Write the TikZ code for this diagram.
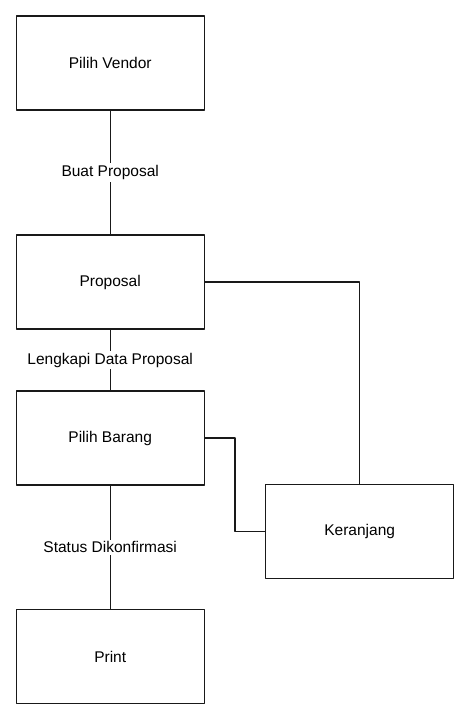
\documentclass[tikz,border=0pt]{standalone}
\usepackage{fontspec}
\usepackage{tikz}
\setmainfont{Liberation Sans}
\usetikzlibrary{calc}
\definecolor{qqqqqq}{rgb}{0.1,0.1,0.1}
\tikzset{
  kotak/.style={draw=qqqqqq,line width=1.3pt,minimum width=188pt,minimum height=94pt,inner sep=0pt,font=\fontsize{15.5}{18}\selectfont},
  garis/.style={draw=qqqqqq,line width=1.3pt},
  ket/.style={fill=white,inner sep=2pt,font=\fontsize{15.5}{18}\selectfont}
}
\begin{document}
\begin{tikzpicture}[line cap=round,line join=round,x=1pt,y=-1pt]
                        \useasboundingbox (0,0) rectangle (471,720);
                        \node[kotak] (vendor) at (110.2,63) {Pilih Vendor};
                        \node[kotak] (proposal) at (110.2,282) {Proposal};
                        \node[kotak] (barang) at (110.2,438) {Pilih Barang};
                        \node[kotak] (keranjang) at (359.7,531.5) {Keranjang};
                        \node[kotak] (print) at (110.2,656.5) {Print};
                        \coordinate (siku) at ($(barang.east)!0.5!(keranjang.west |- barang.east)$);
                        \draw[garis] (vendor) -- node[ket] {Buat Proposal} (proposal);
                        \draw[garis] (proposal) -- node[ket] {Lengkapi Data Proposal} (barang);
                        \draw[garis] (barang) -- node[ket] {Status Dikonfirmasi} (print);
                        \draw[garis] (proposal.east) -| (keranjang.north);
                        \draw[garis] (barang.east) -- (siku) |- (keranjang.west);
                    \end{tikzpicture}
\end{document}
